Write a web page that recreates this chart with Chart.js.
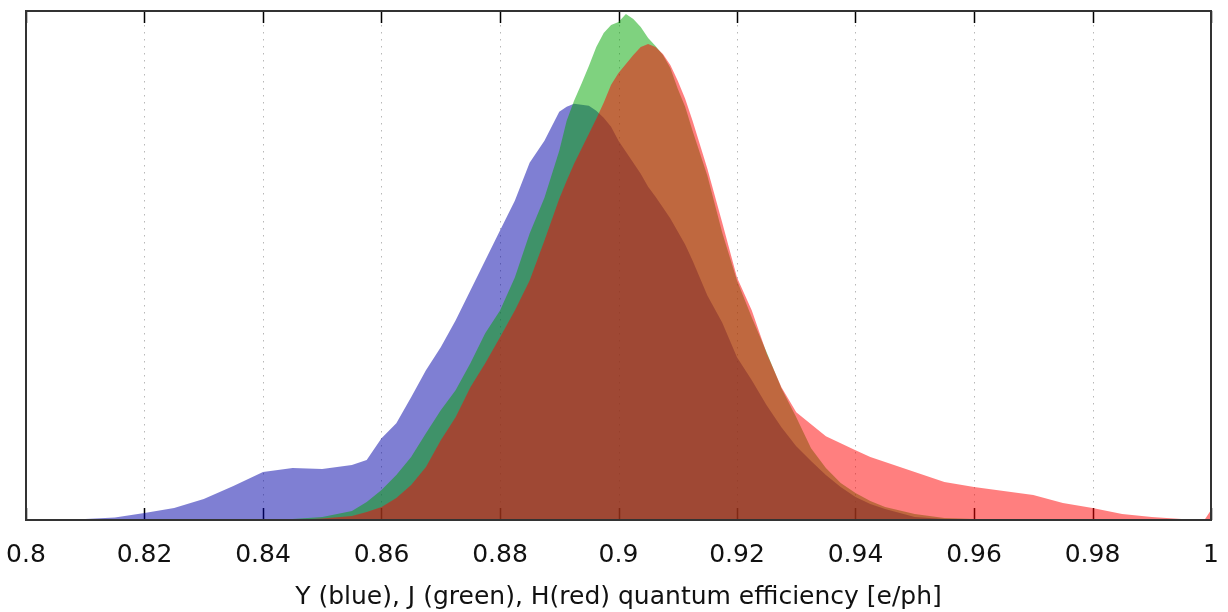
<!DOCTYPE html>
<html>
<head>
<meta charset="utf-8">
<script src="https://cdn.jsdelivr.net/npm/chart.js@4.4.1/dist/chart.umd.min.js"></script>
<style>
    html, body { margin: 0; padding: 0; background: #fff; }
</style>
</head>
<body>
<canvas id="qe-chart" width="1228" height="612"></canvas>
<script>
// quantum efficiency bins (x axis)
const efficiency = [
    0.800, 0.805, 0.810, 0.815, 0.820, 0.825, 0.830, 0.835, 0.840, 0.845, 0.850, 0.855,
    0.8575, 0.860, 0.8625, 0.865, 0.8675, 0.870, 0.8725, 0.875, 0.8775, 0.880, 0.8825, 0.885, 0.8875, 0.890,
    0.89125, 0.8925, 0.89375, 0.895, 0.89625, 0.8975, 0.89875, 0.900, 0.90125, 0.9025, 0.90375, 0.905,
    0.90625, 0.9075, 0.90875, 0.910, 0.91125, 0.9125,
    0.915, 0.9175, 0.920, 0.9225, 0.925, 0.9275, 0.930, 0.9325, 0.935, 0.9375, 0.940, 0.9425, 0.945,
    0.950, 0.955, 0.960, 0.965, 0.970, 0.975, 0.980, 0.985, 0.990, 0.995, 0.999, 1.000
];

// Y band (blue)
const blueY = [
    0, 0, 1, 2.5, 7, 12, 21, 34, 48, 52, 51, 55,
    60, 82, 97, 123, 150, 173, 200, 230, 260, 290, 320, 358, 380, 409,
    414, 417, 416, 415, 410, 403, 394, 380, 369, 358, 347, 334,
    324, 313, 302, 289, 276, 260,
    225, 198, 163, 140, 115, 93, 74, 59, 45, 33, 23, 16, 11,
    3, 1, 0, 0, 0, 0, 0, 0, 0, 0, 0, 0
];

// J band (green)
const greenJ = [
    0, 0, 0, 0, 0, 0, 0, 0, 0, 1, 3, 9,
    18, 30, 45, 63, 87, 110, 130, 157, 187, 210, 243, 287, 323, 370,
    400, 420, 437, 455, 474, 488, 496, 499, 507, 502, 494, 483,
    475, 466, 453, 432, 414, 390,
    345, 288, 240, 203, 168, 132, 103, 72, 52, 37, 27, 19, 13,
    6, 2, 1, 0, 0, 0, 0, 0, 0, 0, 0, 0
];

// H band (red)
const redH = [
    0, 0, 0, 0, 0, 0, 0, 0, 0, 0, 1.5, 4,
    8, 13, 22, 35, 53, 80, 103, 133, 157, 183, 210, 240, 280, 322,
    340, 357, 372, 387, 402, 418, 436, 448, 457, 466, 474, 477,
    474, 467, 456, 440, 422, 400,
    352, 298, 243, 210, 167, 133, 108, 96, 84, 77, 70, 63, 58,
    48, 38, 33, 29, 25, 17, 12, 6, 3, 1, 1, 10
];

const tickValues = [0.8, 0.82, 0.84, 0.86, 0.88, 0.9, 0.92, 0.94, 0.96, 0.98, 1.0];

const toPoints = (values) => efficiency.map((x, i) => ({ x: x, y: values[i] }));

// сетка пунктиром и засечки внутрь, как в matplotlib
const axisDecor = {
    id: 'axisDecor',
    beforeDatasetsDraw(chart) {
        const { ctx, chartArea: area, scales: { x } } = chart;
        ctx.save();
        ctx.strokeStyle = 'rgba(0,0,0,0.28)';
        ctx.lineWidth = 1;
        ctx.setLineDash([1.5, 5.5]);
        tickValues.forEach(v => {
            const px = Math.round(x.getPixelForValue(v)) + 0.5;
            ctx.beginPath();
            ctx.moveTo(px, area.top);
            ctx.lineTo(px, area.bottom);
            ctx.stroke();
        });
        ctx.setLineDash([]);
        ctx.strokeStyle = '#000';
        ctx.lineWidth = 1.5;
        tickValues.forEach(v => {
            const px = Math.round(x.getPixelForValue(v)) + 0.5;
            ctx.beginPath();
            ctx.moveTo(px, area.top);
            ctx.lineTo(px, area.top + 12);
            ctx.moveTo(px, area.bottom);
            ctx.lineTo(px, area.bottom - 12);
            ctx.stroke();
        });
        ctx.restore();
    },
    afterDatasetsDraw(chart) {
        const { ctx, chartArea: area } = chart;
        ctx.save();
        ctx.strokeStyle = '#333';
        ctx.lineWidth = 2;
        ctx.strokeRect(area.left, area.top, area.right - area.left, area.bottom - area.top);
        ctx.restore();
    }
};

const fontFamily = "'DejaVu Sans', sans-serif";

new Chart(document.getElementById('qe-chart').getContext('2d'), {
    type: 'line',
    data: {
        datasets: [
            {
                label: 'H',
                data: toPoints(redH),
                backgroundColor: 'rgba(255,0,0,0.5)',
                borderColor: 'transparent',
                borderWidth: 0,
                fill: 'origin',
                order: 1
            },
            {
                label: 'J',
                data: toPoints(greenJ),
                backgroundColor: 'rgba(0,165,0,0.5)',
                borderColor: 'transparent',
                borderWidth: 0,
                fill: 'origin',
                order: 2
            },
            {
                label: 'Y',
                data: toPoints(blueY),
                backgroundColor: 'rgba(0,0,168,0.5)',
                borderColor: 'transparent',
                borderWidth: 0,
                fill: 'origin',
                order: 3
            }
        ]
    },
    options: {
        responsive: false,
        animation: false,
        devicePixelRatio: 1,
        elements: { point: { radius: 0 }, line: { tension: 0 } },
        layout: { padding: { left: 26, right: 17, top: 11, bottom: 0 } },
        plugins: {
            legend: { display: false },
            tooltip: { enabled: false }
        },
        scales: {
            x: {
                type: 'linear',
                min: 0.8,
                max: 1.0,
                afterBuildTicks: (scale) => { scale.ticks = tickValues.map(v => ({ value: v })); },
                afterFit: (scale) => {
                    scale.height = 92;
                    scale.paddingLeft = 0;
                    scale.paddingRight = 0;
                },
                grid: { display: false },
                border: { display: false },
                ticks: {
                    autoSkip: false,
                    maxRotation: 0,
                    padding: 12,
                    color: '#111',
                    font: { family: fontFamily, size: 25 },
                    callback: (v) => String(+Number(v).toFixed(2))
                },
                title: {
                    display: true,
                    text: 'Y (blue), J (green), H(red) quantum efficiency [e/ph]',
                    color: '#111',
                    font: { family: fontFamily, size: 25 },
                    padding: { top: 0, bottom: 0 }
                }
            },
            y: {
                display: false,
                min: 0,
                max: 510
            }
        }
    },
    plugins: [axisDecor]
});
</script>
</body>
</html>
